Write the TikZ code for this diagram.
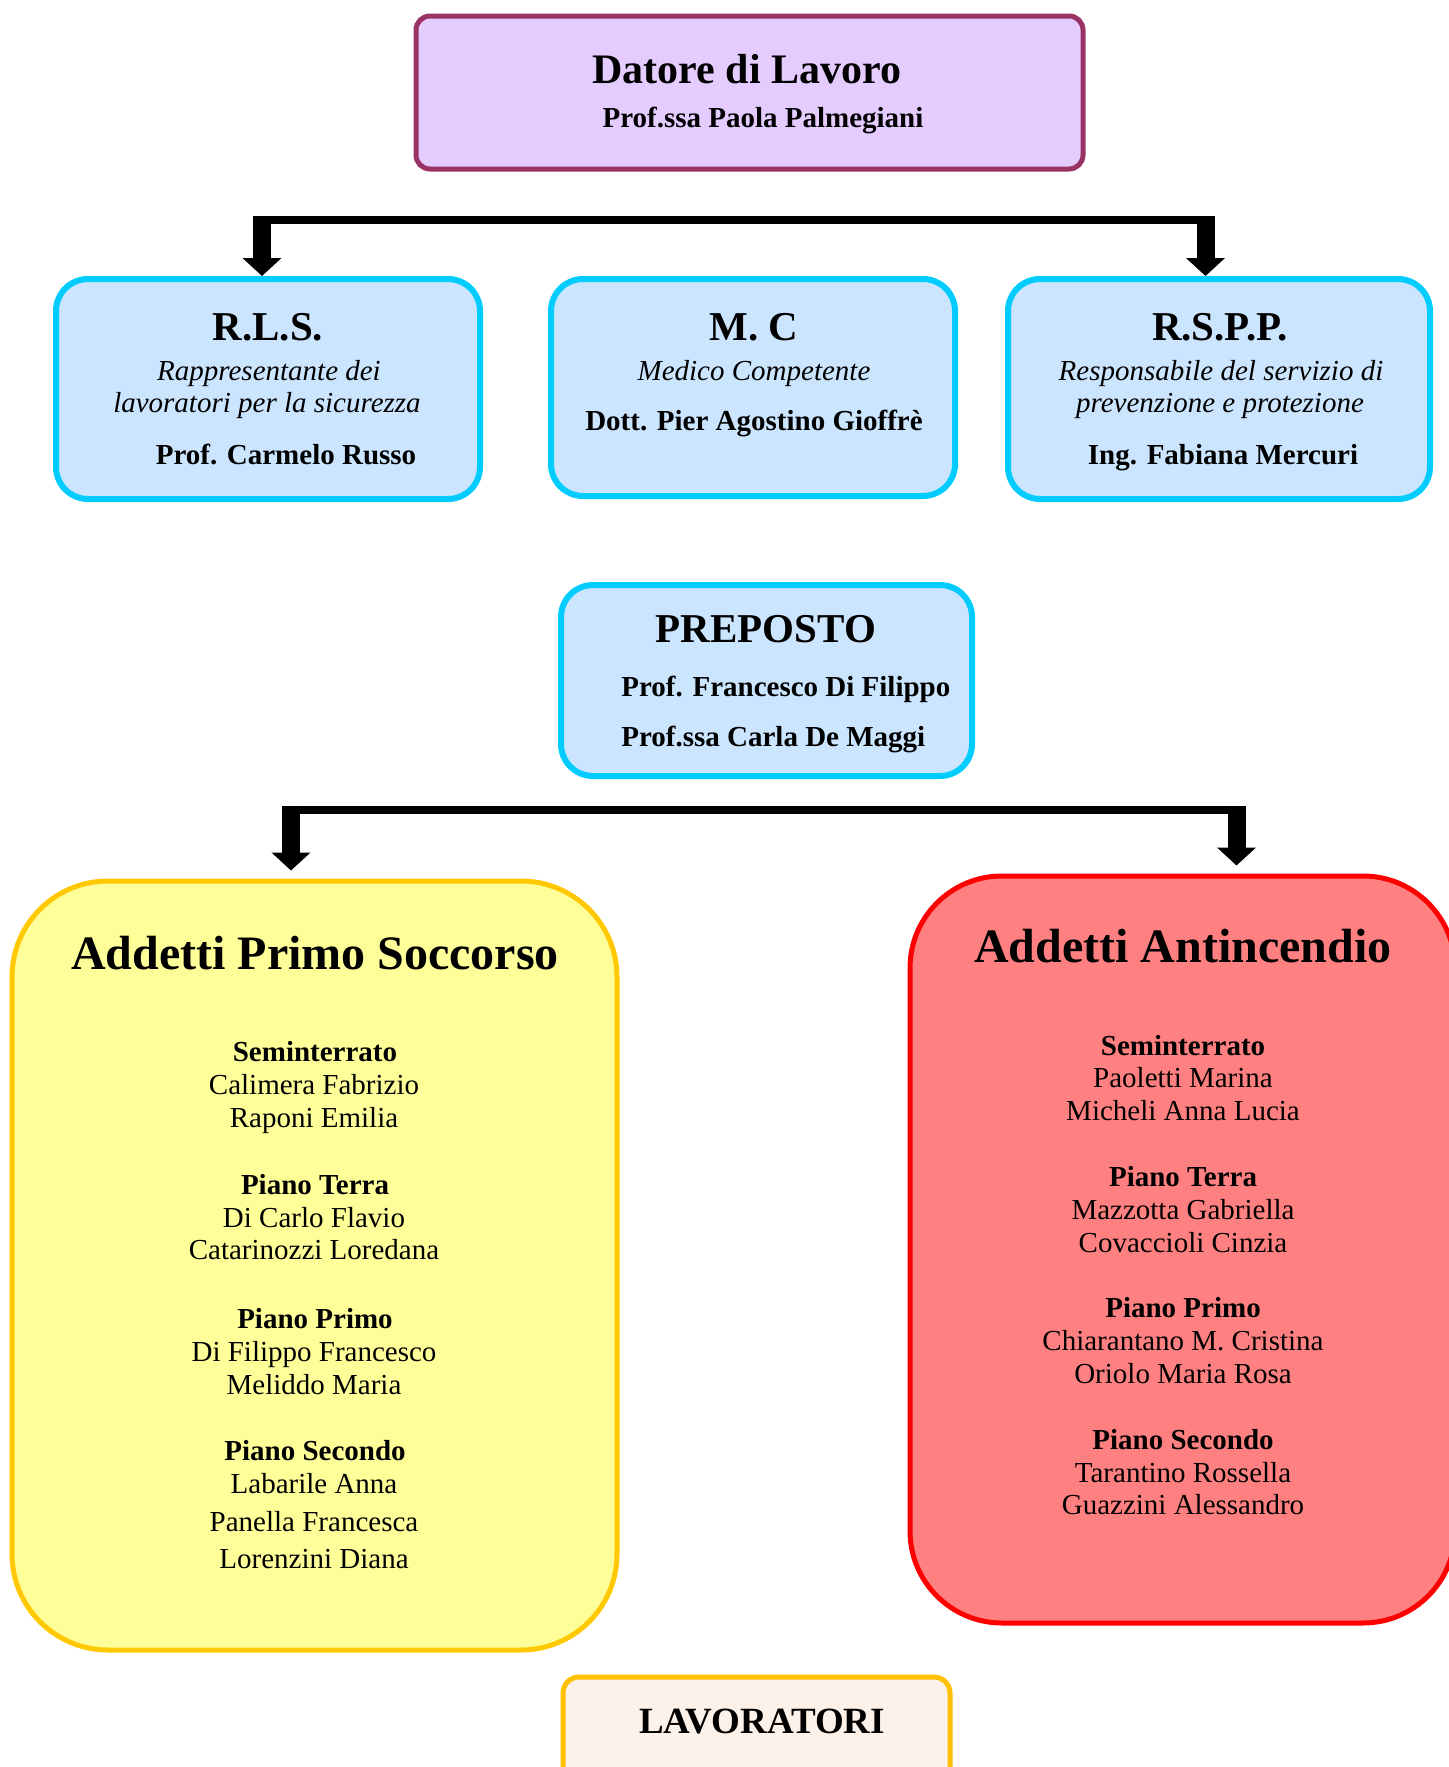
\documentclass[tikz,border=0pt]{standalone}
\usepackage{fontspec}
\setmainfont{Liberation Serif}
\usetikzlibrary{arrows.meta}
\definecolor{topfill}{HTML}{E5CCFF}
\definecolor{topline}{HTML}{993366}
\definecolor{bluefill}{HTML}{CCE5FF}
\definecolor{blueline}{HTML}{00CCFF}
\definecolor{yelfill}{HTML}{FFFF99}
\definecolor{yelline}{HTML}{FFC800}
\definecolor{redfill}{HTML}{FF8080}
\definecolor{redline}{HTML}{FF0000}
\definecolor{lavfill}{HTML}{FDF2E9}
\definecolor{lavline}{HTML}{FFC000}
\newcommand{\fs}[1]{\fontsize{#1}{1.2\dimexpr#1\relax}\selectfont}
\begin{document}
\begin{tikzpicture}[x=0.5pt,y=-0.5pt,
  box/.style={rectangle, inner sep=0pt},
  topbox/.style={box, draw=topline, fill=topfill, line width=2.5pt, rounded corners=7pt},
  bluebox/.style={box, draw=blueline, fill=bluefill, line width=3pt, rounded corners=16pt},
  yelbox/.style={box, draw=yelline, fill=yelfill, line width=2.5pt, rounded corners=48pt},
  redbox/.style={box, draw=redline, fill=redfill, line width=2.5pt, rounded corners=46pt},
  lavbox/.style={box, draw=lavline, fill=lavfill, line width=2.5pt, rounded corners=8pt},
  txt/.style={inner sep=0pt, anchor=base},
  ttl/.style={txt, font=\fs{20.5pt}\bfseries},
  sub/.style={txt, font=\fs{14.5pt}\itshape},
  nm/.style={txt, font=\fs{14.5pt}\bfseries},
  big/.style={txt, font=\fs{24pt}\bfseries},
  floor/.style={txt, font=\fs{14.5pt}\bfseries},
  pers/.style={txt, font=\fs{14.5pt}},
  bar/.style={line width=4pt},
  shaft/.style={line width=9pt, -{Triangle[width=19pt,length=9pt]}}
]
\useasboundingbox (0,0) rectangle (1449,1767);

% boxes
\node[topbox, minimum width=333.5pt, minimum height=76.5pt] (top) at (749.5,92.5) {};
\node[bluebox, minimum width=212pt, minimum height=110pt] (rls) at (268,389) {};
\node[bluebox, minimum width=202pt, minimum height=108.5pt] (mc) at (753,387.5) {};
\node[bluebox, minimum width=211pt, minimum height=110pt] (rspp) at (1219,389) {};
\node[bluebox, minimum width=205.5pt, minimum height=95.5pt] (prep) at (766.5,680.5) {};
\node[yelbox, minimum width=302.5pt, minimum height=384.5pt] (yel) at (314.5,1265.5) {};
\node[redbox, minimum width=272.5pt, minimum height=373.5pt] (red) at (1182.5,1249.5) {};
\node[lavbox, minimum width=193.5pt, minimum height=61.5pt] (lav) at (756.5,1738.5) {};

% top texts
\node[txt, font=\fs{21pt}\bfseries] (t1) at (747,83) {Datore di Lavoro};
\node[nm] (t2) at (763,127) {Prof.ssa Paola Palmegiani};

% RLS
\node[ttl] (rlsT) at (268,340.5) {R.L.S.};
\node[sub] (rlsA) at (269,380) {Rappresentante dei};
\node[sub] (rlsB) at (267,412.6) {lavoratori per la sicurezza};
\node[nm] (rlsN) at (286,464) {Prof. Carmelo Russo};

% MC
\node[ttl] (mcT) at (754,340.5) {M. C};
\node[sub] (mcA) at (754,380) {Medico Competente};
\node[nm] (mcN) at (754,430) {Dott. Pier Agostino Gioffrè};

% RSPP
\node[ttl] (rsT) at (1220,340.5) {R.S.P.P.};
\node[sub] (rsA) at (1221,380) {Responsabile del servizio di};
\node[sub] (rsB) at (1220,412.6) {prevenzione e protezione};
\node[nm] (rsN) at (1223,464) {Ing. Fabiana Mercuri};

% PREPOSTO
\node[ttl] (prT) at (766,642.5) {PREPOSTO};
\node[nm, anchor=base west] (prA) at (621,696.6) {Prof. Francesco Di Filippo};
\node[nm, anchor=base west] (prB) at (621,746.6) {Prof.ssa Carla De Maggi};

% Primo soccorso
\node[big] (yT) at (315,969) {Addetti Primo Soccorso};
\node[floor] (y1) at (315,1061.6) {Seminterrato};
\node[pers] (y2) at (314,1094.6) {Calimera Fabrizio};
\node[pers] (y3) at (314,1127.6) {Raponi Emilia};
\node[floor] (y4) at (315,1194.6) {Piano Terra};
\node[pers] (y5) at (314,1227.6) {Di Carlo Flavio};
\node[pers] (y6) at (314,1259.6) {Catarinozzi Loredana};
\node[floor] (y7) at (315,1328.6) {Piano Primo};
\node[pers] (y8) at (314,1361.6) {Di Filippo Francesco};
\node[pers] (y9) at (314,1394.6) {Meliddo Maria};
\node[floor] (y10) at (315,1460.6) {Piano Secondo};
\node[pers] (y11) at (314,1493.6) {Labarile Anna};
\node[pers] (y12) at (314,1531.6) {Panella Francesca};
\node[pers] (y13) at (314,1568.6) {Lorenzini Diana};

% Antincendio
\node[big] (rT) at (1183,962) {Addetti Antincendio};
\node[floor] (r1) at (1183,1055.6) {Seminterrato};
\node[pers] (r2) at (1183,1087.6) {Paoletti Marina};
\node[pers] (r3) at (1183,1120.6) {Micheli Anna Lucia};
\node[floor] (r4) at (1183,1186.6) {Piano Terra};
\node[pers] (r5) at (1183,1219.6) {Mazzotta Gabriella};
\node[pers] (r6) at (1183,1252.6) {Covaccioli Cinzia};
\node[floor] (r7) at (1183,1317.6) {Piano Primo};
\node[pers] (r8) at (1183,1350.6) {Chiarantano M. Cristina};
\node[pers] (r9) at (1183,1383.6) {Oriolo Maria Rosa};
\node[floor] (r10) at (1183,1449.6) {Piano Secondo};
\node[pers] (r11) at (1183,1482.6) {Tarantino Rossella};
\node[pers] (r12) at (1183,1514.6) {Guazzini Alessandro};

% LAVORATORI
\node[txt, font=\fs{18.5pt}\bfseries] (lavT) at (762,1733) {LAVORATORI};

% connectors, upper
\coordinate (a1) at (262,220);
\coordinate (a2) at (1205.5,220);
\draw[bar] (a1) -- (a2);
\draw[shaft] ([yshift=2pt]a1) -- (a1 |- rls.north);
\draw[shaft] ([yshift=2pt]a2) -- (a2 |- rspp.north);

% connectors, lower
\coordinate (b1) at (291,809.5);
\coordinate (b2) at (1236.5,809.5);
\draw[bar] (b1) -- (b2);
\draw[shaft, shorten >=4pt] ([yshift=2pt]b1) -- (b1 |- yel.north);
\draw[shaft, shorten >=4pt] ([yshift=2pt]b2) -- (b2 |- red.north);
\end{tikzpicture}
\end{document}
